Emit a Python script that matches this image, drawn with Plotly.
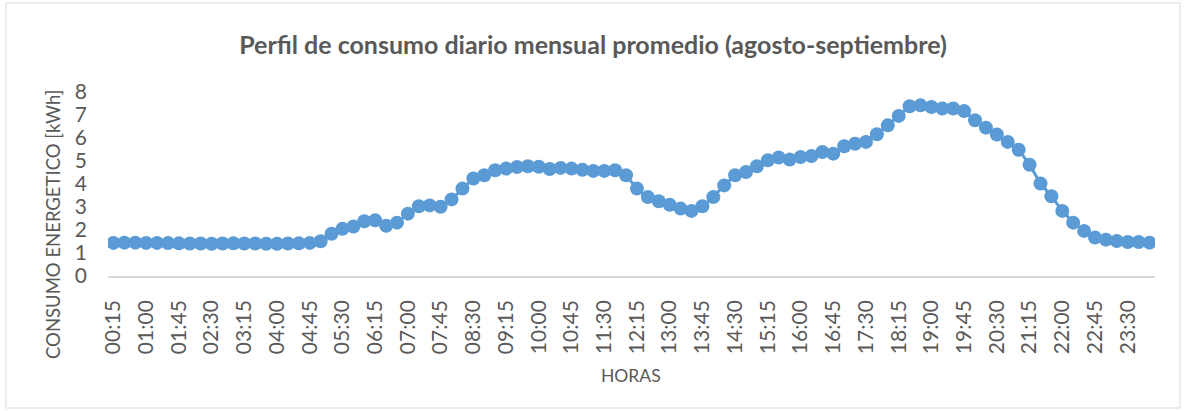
import plotly.graph_objects as go

# ---- data ----
horas = [f"{((i + 1) * 15) // 60 % 24:02d}:{((i + 1) * 15) % 60:02d}" for i in range(96)]
consumo = [
    1.44, 1.45, 1.45, 1.44, 1.44, 1.43, 1.42, 1.41, 1.41, 1.40,
    1.41, 1.42, 1.41, 1.41, 1.40, 1.40, 1.41, 1.42, 1.44, 1.51,
    1.84, 2.05, 2.15, 2.38, 2.42, 2.18, 2.32, 2.71, 3.03, 3.07,
    3.01, 3.33, 3.80, 4.24, 4.38, 4.60, 4.67, 4.74, 4.77, 4.75,
    4.65, 4.70, 4.67, 4.62, 4.57, 4.57, 4.60, 4.38, 3.80, 3.43,
    3.25, 3.10, 2.93, 2.83, 3.03, 3.43, 3.94, 4.38, 4.52, 4.77,
    5.03, 5.15, 5.06, 5.17, 5.22, 5.39, 5.32, 5.64, 5.75, 5.83,
    6.16, 6.55, 6.96, 7.38, 7.42, 7.35, 7.28, 7.28, 7.17, 6.77,
    6.45, 6.15, 5.83, 5.49, 4.84, 4.02, 3.47, 2.83, 2.32, 1.96,
    1.67, 1.58, 1.52, 1.48, 1.48, 1.45,
]
tick_labels = horas[::3]
y_ticks = [0, 1, 2, 3, 4, 5, 6, 7, 8]

titulo = "Perfil de consumo diario mensual promedio (agosto-septiembre)"
titulo_y = "CONSUMO ENERGETICO [kWh]"
titulo_x = "HORAS"

# ---- layout geometry ----
W, H = 1184, 411
L, R, T, B = 108, 29, 92, 135
PW, PH = W - L - R, H - T - B
TXT = "#595959"
FONT = "Lato"


def px_x(x):
    return (x - L) / PW


def px_y(y):
    return (H - B - y) / PH


fig = go.Figure()
fig.add_trace(go.Scatter(
    x=horas, y=consumo, mode="lines+markers",
    line=dict(color="#5B9BD5", width=3),
    marker=dict(color="#5B9BD5", size=14, symbol="circle"),
    showlegend=False, hoverinfo="x+y",
))

fig.update_layout(
    width=W, height=H,
    margin=dict(l=L, r=R, t=T, b=B),
    paper_bgcolor="white", plot_bgcolor="white",
    font=dict(family=FONT, color=TXT),
    title=dict(text=f"<b>{titulo}</b>", x=593 / W, y=1 - 45 / H,
               xanchor="center", yanchor="middle",
               font=dict(family=FONT, size=25, color=TXT)),
    xaxis=dict(
        type="category", range=[-0.5, 95.5],
        tickmode="array", tickvals=tick_labels, ticktext=tick_labels,
        tickangle=-90, tickfont=dict(size=21, color=TXT),
        showgrid=False, zeroline=False,
        showline=True, linecolor="#D9D9D9", linewidth=1.5,
        ticks="", ticklabelstandoff=14,
    ),
    yaxis=dict(
        range=[0, 8], tickmode="array", tickvals=y_ticks,
        tickfont=dict(size=21, color=TXT),
        showgrid=False, zeroline=False, showline=False,
        ticks="", ticklabelstandoff=20,
    ),
    annotations=[
        dict(text=titulo_y, xref="paper", yref="paper",
             x=px_x(53), y=px_y(225), textangle=-90,
             showarrow=False, xanchor="center", yanchor="middle",
             font=dict(family=FONT, size=18.5, color=TXT)),
        dict(text=titulo_x, xref="paper", yref="paper",
             x=px_x(631), y=px_y(375),
             showarrow=False, xanchor="center", yanchor="middle",
             font=dict(family=FONT, size=17.5, color=TXT)),
    ],
    shapes=[
        dict(type="rect", xref="paper", yref="paper",
             x0=px_x(6), x1=px_x(1180), y0=px_y(408), y1=px_y(3),
             line=dict(color="#D9D9D9", width=1), fillcolor="rgba(0,0,0,0)",
             layer="below"),
    ],
)

fig.write_html("out.html", config={"displayModeBar": False},
               post_script="document.body.style.margin='0';")
